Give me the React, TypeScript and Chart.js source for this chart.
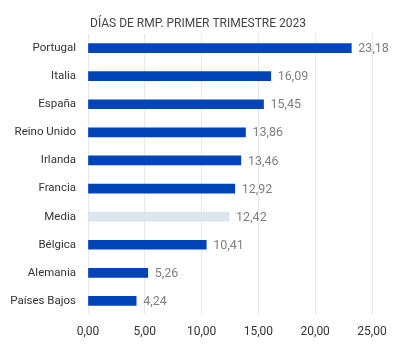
import React, { useEffect, useRef } from "react";
import { Chart, registerables } from "chart.js";

Chart.register(...registerables);

const categories = ["Portugal", "Italia", "España", "Reino Unido", "Irlanda", "Francia", "Media", "Bélgica", "Alemania", "Países Bajos"];
const values = [23.18, 16.09, 15.45, 13.86, 13.46, 12.92, 12.42, 10.41, 5.26, 4.24];
const titleText = "DÍAS DE RMP. PRIMER TRIMESTRE 2023";
const highlightCategory = "Media";

const fmt = (v: number) => v.toFixed(2).replace(".", ",");

const valueLabels = {
  id: "valueLabels",
  afterDatasetsDraw(chart: any) {
    const ctx = chart.ctx;
    const meta = chart.getDatasetMeta(0);
    ctx.save();
    ctx.font = "12.5px Roboto";
    ctx.fillStyle = "#7f7f7f";
    ctx.textAlign = "left";
    ctx.textBaseline = "middle";
    meta.data.forEach((bar: any, i: number) => {
      ctx.fillText(fmt(values[i]), bar.x + 7, bar.y + 1);
    });
    ctx.restore();
  },
};

const titlePlugin = {
  id: "customTitle",
  afterDraw(chart: any) {
    const ctx = chart.ctx;
    ctx.save();
    ctx.font = "12px Roboto";
    ctx.fillStyle = "#444444";
    ctx.textAlign = "center";
    ctx.textBaseline = "middle";
    ctx.fillText(titleText, (chart.width - 18) / 2, 16);
    ctx.restore();
  },
};

export default function App() {
  const ref = useRef<HTMLCanvasElement>(null);
  useEffect(() => {
    if (!ref.current) return;
    const chart = new Chart(ref.current, {
      type: "bar",
      data: {
        labels: categories,
        datasets: [
          {
            data: values,
            backgroundColor: categories.map((c) => (c === highlightCategory ? "#dde5ee" : "#0044b8")),
            barThickness: 9,
            borderWidth: 0,
          },
        ],
      },
      options: {
        indexAxis: "y",
        responsive: false,
        animation: false,
        layout: { padding: { left: 0, right: 34, top: 26, bottom: 0 } },
        plugins: {
          legend: { display: false },
          tooltip: { enabled: false },
          title: { display: false },
        },
        scales: {
          x: {
            min: 0,
            max: 25,
            ticks: {
              stepSize: 5,
              color: "#333333",
              font: { family: "Roboto", size: 12 },
              padding: 10,
              callback: (v: any) => fmt(Number(v)),
            },
            grid: { color: "#e8e8e8", drawTicks: false },
            border: { display: false },
            afterFit: (s: any) => {
              s.height = 38;
            },
          },
          y: {
            ticks: {
              color: "#333333",
              font: { family: "Roboto", size: 11.5 },
              padding: 12,
            },
            grid: { display: false, drawTicks: false },
            border: { display: false },
            afterFit: (s: any) => {
              s.width = 80;
            },
          },
        },
      },
      plugins: [valueLabels, titlePlugin],
    });
    return () => chart.destroy();
  }, []);
  return <canvas ref={ref} width={398} height={345} style={{ display: "block" }} />;
}
